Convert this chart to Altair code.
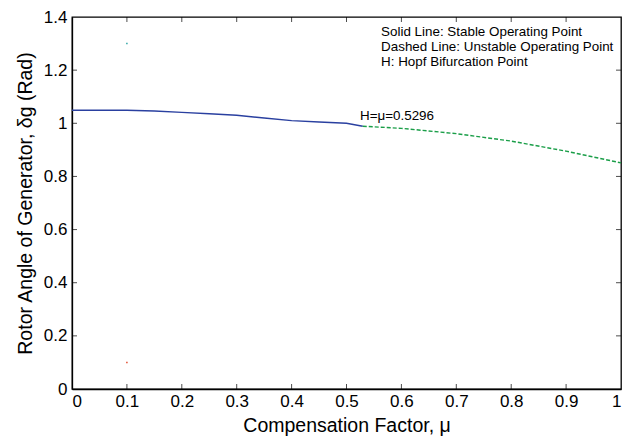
import altair as alt
import pandas as pd

# Stable branch (solid blue)
stable_mu = [0.0, 0.05, 0.1, 0.15, 0.2, 0.25, 0.3, 0.35, 0.4, 0.45, 0.5, 0.5296]
stable_delta = [1.049, 1.049, 1.049, 1.046, 1.041, 1.036, 1.030, 1.020, 1.010, 1.005, 1.000, 0.989]

# Unstable branch (dashed green)
unstable_mu = [0.5296, 0.6, 0.7, 0.8, 0.9, 1.0]
unstable_delta = [0.989, 0.981, 0.961, 0.933, 0.895, 0.851]

# stray single-pixel markers
dot_mu = [0.1, 0.1]
dot_delta = [1.3, 0.1]
dot_color = ["#22a0a0", "#e04020"]

x_tick_values = [0.1, 0.2, 0.3, 0.4, 0.5, 0.6, 0.7, 0.8, 0.9]
y_tick_values = [0.2, 0.4, 0.6, 0.8, 1.0, 1.2]

notes = ["Solid Line: Stable Operating Point",
         "Dashed Line: Unstable Operating Point",
         "H: Hopf Bifurcation Point"]
notes_mu = [0.563, 0.563, 0.563]
notes_delta = [1.345, 1.287, 1.229]

hopf_label = "H=\u03bc=0.5296"
hopf_mu = 0.5246
hopf_delta = 1.026

FONT = "Liberation Sans, Arial, Helvetica"
W, H = 549, 372

stable_df = pd.DataFrame({"mu": stable_mu, "delta": stable_delta})
unstable_df = pd.DataFrame({"mu": unstable_mu, "delta": unstable_delta})
dots_df = pd.DataFrame({"mu": dot_mu, "delta": dot_delta, "c": dot_color})
xt_df = pd.DataFrame({"mu": x_tick_values})
yt_df = pd.DataFrame({"delta": y_tick_values})
notes_df = pd.DataFrame({"mu": notes_mu, "delta": notes_delta, "t": notes})
hopf_df = pd.DataFrame({"mu": [hopf_mu], "delta": [hopf_delta], "t": [hopf_label]})

xscale = alt.Scale(domain=[0, 1], nice=False, zero=False)
yscale = alt.Scale(domain=[0, 1.4], nice=False, zero=False)

xaxis = alt.Axis(title="Compensation Factor, \u03bc", values=[i / 10 for i in range(11)],
                 format=".1~f", grid=False, ticks=False, tickSize=0, labelPadding=4,
                 titlePadding=7)
yaxis = alt.Axis(title="Rotor Angle of Generator, \u03b4g (Rad)",
                 values=[0, 0.2, 0.4, 0.6, 0.8, 1.0, 1.2, 1.4],
                 format=".1~f", grid=False, ticks=False, tickSize=0, labelPadding=5,
                 titlePadding=8)

X = alt.X("mu:Q", scale=xscale, axis=xaxis)
Y = alt.Y("delta:Q", scale=yscale, axis=yaxis)

stable = alt.Chart(stable_df).mark_line(color="#2a40a0", strokeWidth=1.4).encode(x=X, y=Y)
unstable = alt.Chart(unstable_df).mark_line(color="#1a9e48", strokeWidth=1.4,
                                            strokeDash=[4, 2]).encode(
    x=alt.X("mu:Q", scale=xscale), y=alt.Y("delta:Q", scale=yscale))
dots = alt.Chart(dots_df).mark_square(size=2, opacity=1).encode(
    x=alt.X("mu:Q", scale=xscale), y=alt.Y("delta:Q", scale=yscale),
    color=alt.Color("c:N", scale=None))

tick_bottom = alt.Chart(xt_df).mark_tick(orient="vertical", size=5, thickness=1,
                                         color="black", yOffset=-2.5).encode(
    x=alt.X("mu:Q", scale=xscale), y=alt.value(H))
tick_top = alt.Chart(xt_df).mark_tick(orient="vertical", size=5, thickness=1,
                                      color="black", yOffset=2.5).encode(
    x=alt.X("mu:Q", scale=xscale), y=alt.value(0))
tick_left = alt.Chart(yt_df).mark_tick(orient="horizontal", size=5, thickness=1,
                                       color="black", xOffset=2.5).encode(
    y=alt.Y("delta:Q", scale=yscale), x=alt.value(0))
tick_right = alt.Chart(yt_df).mark_tick(orient="horizontal", size=5, thickness=1,
                                        color="black", xOffset=-2.5).encode(
    y=alt.Y("delta:Q", scale=yscale), x=alt.value(W))

notes_text = alt.Chart(notes_df).mark_text(align="left", baseline="middle", font=FONT,
                                           fontSize=13.4, color="black").encode(
    x=alt.X("mu:Q", scale=xscale), y=alt.Y("delta:Q", scale=yscale), text="t:N")
hopf_text = alt.Chart(hopf_df).mark_text(align="left", baseline="middle", font=FONT,
                                         fontSize=13.4, color="black").encode(
    x=alt.X("mu:Q", scale=xscale), y=alt.Y("delta:Q", scale=yscale), text="t:N")

chart = alt.layer(stable, unstable, dots, tick_bottom, tick_top, tick_left, tick_right,
                  notes_text, hopf_text).properties(
    width=W, height=H,
    autosize=alt.AutoSizeParams(type="none"),
    padding={"left": 64, "top": 9, "right": 5, "bottom": 48},
    background="white",
).configure_view(stroke="black", strokeWidth=1.3).configure_axis(
    domainColor="black", domainWidth=1.3,
    labelFont=FONT, labelFontSize=17, labelColor="black",
    titleFont=FONT, titleFontSize=19.5, titleFontWeight="normal", titleColor="black",
)

chart.save("out.html", embed_options={"renderer": "svg", "actions": False})
